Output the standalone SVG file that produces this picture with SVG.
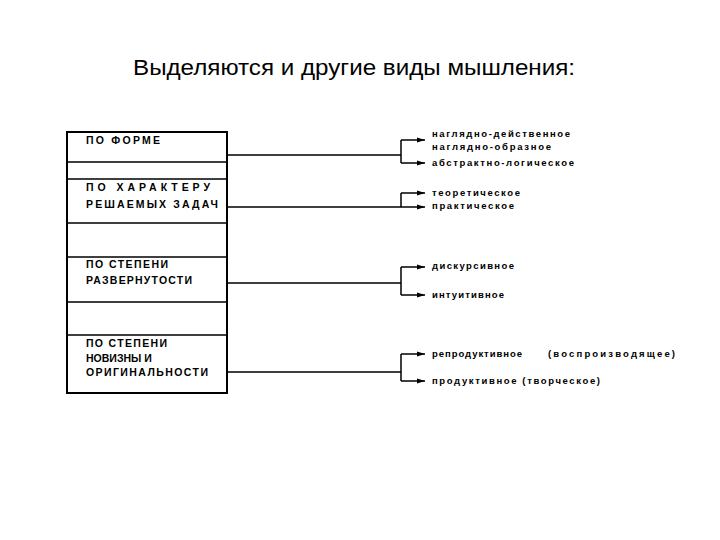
<svg xmlns="http://www.w3.org/2000/svg" width="720" height="540" viewBox="0 0 720 540">
<style>
.t{font-family:"Liberation Sans",Arial,sans-serif;fill:#000}
.l{font-family:"Liberation Sans",Arial,sans-serif;font-weight:bold;font-size:10.5px}
.r{font-family:"Liberation Sans",Arial,sans-serif;font-weight:bold;font-size:9.5px}
.c{fill:none;stroke:#000;stroke-width:1.5}
.b{fill:#fff;stroke:#000;stroke-width:2}
</style>
<defs><marker id="a" markerWidth="8" markerHeight="6" refX="8" refY="3" orient="auto" markerUnits="userSpaceOnUse"><path d="M0,0.5 L8,3 L0,5.5 Z" fill="#000"/></marker></defs>
<rect width="720" height="540" fill="#fff"/>
<text class="t" x="133" y="75" font-size="22" textLength="442" lengthAdjust="spacingAndGlyphs">Выделяются и другие виды мышления:</text>
<g id="box">
<rect class="b" x="67" y="132" width="160" height="261"/>
<path class="c" stroke-width="2" d="M67,162H227M67,179H227M67,223H227M67,257H227M67,302H227M67,335H227"/>
</g>
<g id="n1"><text class="l" x="86" y="144" textLength="74" lengthAdjust="spacing">ПО ФОРМЕ</text></g>
<g id="n2"><text class="l" x="86" y="191" textLength="124" lengthAdjust="spacing">ПО ХАРАКТЕРУ</text><text class="l" x="86" y="208" textLength="132" lengthAdjust="spacing">РЕШАЕМЫХ ЗАДАЧ</text></g>
<g id="n3"><text class="l" x="86" y="268" textLength="82" lengthAdjust="spacing">ПО СТЕПЕНИ</text><text class="l" x="86" y="284" textLength="106" lengthAdjust="spacing">РАЗВЕРНУТОСТИ</text></g>
<g id="n4"><text class="l" x="86" y="347" textLength="81" lengthAdjust="spacing">ПО СТЕПЕНИ</text><text class="l" x="86" y="362">НОВИЗНЫ И</text><text class="l" x="86" y="376" textLength="122" lengthAdjust="spacing">ОРИГИНАЛЬНОСТИ</text></g>
<g id="connectors">
<path class="c" d="M227,155H401M401,140V163"/>
<path class="c" marker-end="url(#a)" d="M401,140H425"/>
<path class="c" marker-end="url(#a)" d="M401,163H425"/>
<path class="c" d="M227,207H401M401,193V207"/>
<path class="c" marker-end="url(#a)" d="M401,193H425"/>
<path class="c" marker-end="url(#a)" d="M401,207H425"/>
<path class="c" d="M227,283H401M401,267V295"/>
<path class="c" marker-end="url(#a)" d="M401,267H425"/>
<path class="c" marker-end="url(#a)" d="M401,295H425"/>
<path class="c" d="M227,372H401M401,354V381"/>
<path class="c" marker-end="url(#a)" d="M401,354H425"/>
<path class="c" marker-end="url(#a)" d="M401,381H425"/>
</g>
<g id="leaves">
<text class="r" x="432" y="137" textLength="138" lengthAdjust="spacing">наглядно-действенное</text>
<text class="r" x="432" y="150" textLength="119" lengthAdjust="spacing">наглядно-образное</text>
<text class="r" x="432" y="166" textLength="142" lengthAdjust="spacing">абстрактно-логическое</text>
<text class="r" x="432" y="196" textLength="88" lengthAdjust="spacing">теоретическое</text>
<text class="r" x="432" y="209" textLength="82" lengthAdjust="spacing">практическое</text>
<text class="r" x="432" y="269" textLength="82" lengthAdjust="spacing">дискурсивное</text>
<text class="r" x="432" y="298" textLength="72" lengthAdjust="spacing">интуитивное</text>
<text class="r" x="432" y="357" textLength="90" lengthAdjust="spacing">репродуктивное</text>
<text class="r" x="548" y="357" textLength="127" lengthAdjust="spacing">(воспроизводящее)</text>
<text class="r" x="432" y="384" textLength="168" lengthAdjust="spacing">продуктивное (творческое)</text>
</g>
</svg>
